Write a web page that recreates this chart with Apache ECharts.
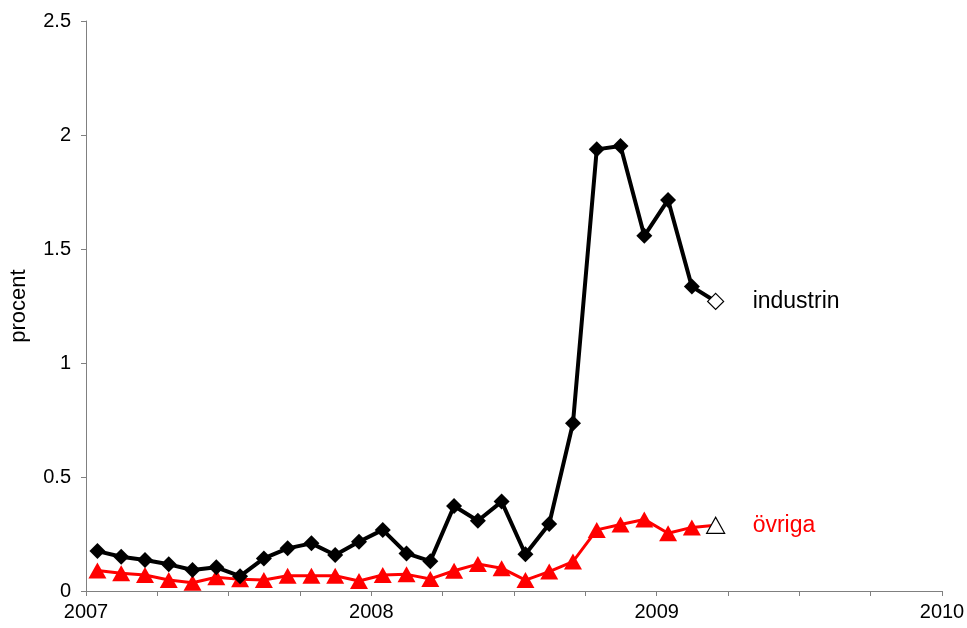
<!DOCTYPE html>
<html>
<head>
<meta charset="utf-8">
<script src="https://cdn.jsdelivr.net/npm/echarts@6/dist/echarts.min.js"></script>
<style>html,body{margin:0;padding:0;background:#fff}#c{width:967px;height:628px}</style>
</head>
<body>
<div id="c"></div>
<script>
const months = ["2007-01","2007-02","2007-03","2007-04","2007-05","2007-06","2007-07","2007-08","2007-09","2007-10","2007-11","2007-12",
  "2008-01","2008-02","2008-03","2008-04","2008-05","2008-06","2008-07","2008-08","2008-09","2008-10","2008-11","2008-12",
  "2009-01","2009-02","2009-03"];
const industrin = [0.175,0.15,0.136,0.117,0.092,0.104,0.065,0.143,0.187,0.209,0.158,0.216,
  0.268,0.165,0.131,0.373,0.308,0.392,0.161,0.294,0.736,1.937,1.952,1.558,1.715,1.335,1.27];
const ovriga = [0.09,0.078,0.07,0.048,0.036,0.06,0.051,0.048,0.067,0.067,0.067,0.044,
  0.07,0.073,0.053,0.089,0.118,0.1,0.048,0.085,0.129,0.268,0.292,0.314,0.253,0.279,0.288];
const yearTicks = [2007, 2008, 2009, 2010];
const yTicks = [0, 0.5, 1, 1.5, 2, 2.5];

function xOf(m){ const [y, mo] = m.split('-').map(Number); return y + (mo - 1 + 0.48) / 12; }
function build(vals, hollow){
  return vals.map((v, i) => {
    const d = { value: [xOf(months[i]), v] };
    if (i === vals.length - 1) d.itemStyle = hollow;
    return d;
  });
}
const font = 'Liberation Sans, Arial, sans-serif';
const chart = echarts.init(document.getElementById('c'));
chart.setOption({
  animation: false,
  backgroundColor: '#fff',
  grid: { left: 86, right: 25, top: 21, bottom: 37, containLabel: false, outerBoundsMode: 'none' },
  xAxis: {
    type: 'value', min: yearTicks[0], max: yearTicks[yearTicks.length-1], interval: 0.25,
    axisLine: { show: true, lineStyle: { color: '#808080', width: 1 } },
    axisTick: { show: true, length: 5, lineStyle: { color: '#808080' } },
    splitLine: { show: false },
    axisLabel: { fontFamily: font, fontSize: 20, color: '#000', margin: 11,
      formatter: v => yearTicks.includes(Math.round(v*100)/100) ? String(Math.round(v)) : '' }
  },
  yAxis: {
    type: 'value', min: yTicks[0], max: yTicks[yTicks.length-1], interval: 0.5,
    name: 'procent', nameLocation: 'middle', nameGap: 56, nameRotate: 90,
    nameTextStyle: { fontFamily: font, fontSize: 22, color: '#000' },
    axisLine: { show: true, lineStyle: { color: '#808080', width: 1 } },
    axisTick: { show: true, length: 5, lineStyle: { color: '#808080' } },
    splitLine: { show: false },
    axisLabel: { fontFamily: font, fontSize: 20, color: '#000', margin: 15 }
  },
  series: [
    {
      name: 'industrin', type: 'line', data: build(industrin, { color: '#fff', borderColor: '#000', borderWidth: 1.2 }),
      symbol: 'diamond', symbolSize: 16, showAllSymbol: true,
      lineStyle: { color: '#000', width: 4 }, itemStyle: { color: '#000' },
      endLabel: { show: true, formatter: '{a}', distance: 37, fontFamily: font, fontSize: 23, color: '#000' },
      z: 3
    },
    {
      name: 'övriga', type: 'line', data: build(ovriga, { color: '#fff', borderColor: '#000', borderWidth: 1.2 }),
      symbol: 'triangle', symbolSize: [18, 16], showAllSymbol: true,
      lineStyle: { color: '#ff0000', width: 3 }, itemStyle: { color: '#ff0000' },
      endLabel: { show: true, formatter: '{a}', distance: 37, fontFamily: font, fontSize: 23, color: '#ff0000' },
      z: 2
    }
  ]
});
</script>
</body>
</html>
